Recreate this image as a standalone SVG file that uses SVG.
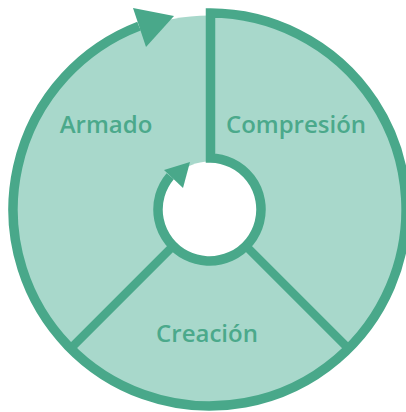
<svg xmlns="http://www.w3.org/2000/svg" width="406" height="412" viewBox="0 0 406 412">
<style>
.ln{fill:none;stroke:#49a88a;stroke-width:9.5;stroke-linejoin:miter}
.dv{stroke:#49a88a;stroke-width:8.5}
.ah{fill:#49a88a}
.lbl{font-family:"Open Sans","Noto Sans",sans-serif;font-weight:600;font-size:24px;fill:#4ba98b;text-anchor:middle}
</style>
<rect width="406" height="412" fill="#ffffff"/>
<circle id="disk" cx="209.5" cy="209.5" r="194" fill="#a8d8cb"/>
<circle id="hub" cx="209.5" cy="209.5" r="48" fill="#ffffff"/>
<g id="connectors">
<path class="ln" d="M170.2,176.2 A51.5,51.5 0 1 0 210.5,158 V13 A196.5,196.5 0 1 1 139,26.1"/>
<line class="dv" x1="173.1" y1="245.9" x2="70.6" y2="348.4"/>
<line class="dv" x1="245.9" y1="245.9" x2="348.4" y2="348.4"/>
<polygon class="ah" points="133,8 174,16 146,47"/>
<polygon class="ah" points="164,170 190,162 183,188"/>
</g>
<g id="armado"><text class="lbl" x="106" y="133">Armado</text></g>
<g id="compresion"><text class="lbl" x="296" y="133">Compresión</text></g>
<g id="creacion"><text class="lbl" x="207" y="342">Creación</text></g>
</svg>
